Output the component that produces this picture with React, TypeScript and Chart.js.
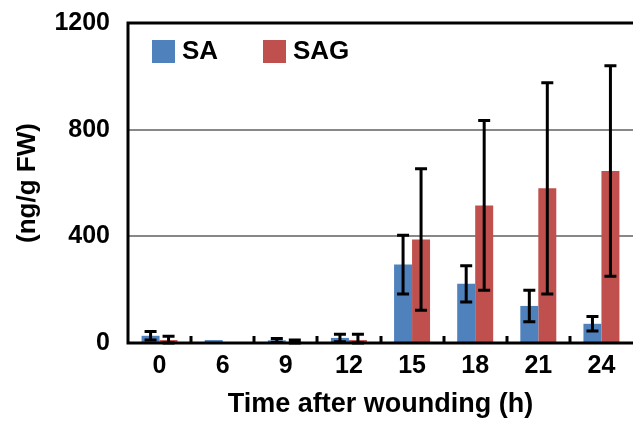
import React, { useEffect, useRef } from "react";
import { Chart, registerables } from "chart.js";

Chart.register(...registerables);

const hours = ["0", "6", "9", "12", "15", "18", "21", "24"];
const saMean = [27, 11, 10, 19, 294, 222, 139, 72];
const saErr = [16, 0, 7, 14, 110, 68, 59, 27];
const sagMean = [11, 0, 4, 11, 388, 516, 580, 645];
const sagErr = [14, 0, 7, 22, 265, 318, 396, 395];
const yTicks = [0, 400, 800, 1200];

const SA_COLOR = "#4f81bd";
const SAG_COLOR = "#c0504d";
const FONT = "'Liberation Sans', Arial, sans-serif";

const errorBars = {
  id: "errorBars",
  afterDatasetsDraw(chart: any) {
    const { ctx } = chart;
    const y = chart.scales.y;
    const errs = [saErr, sagErr];
    ctx.save();
    ctx.strokeStyle = "#000";
    ctx.lineWidth = 3;
    chart.data.datasets.forEach((ds: any, di: number) => {
      const meta = chart.getDatasetMeta(di);
      meta.data.forEach((bar: any, i: number) => {
        const e = errs[di][i];
        if (!e) return;
        const v = ds.data[i];
        const x = bar.x;
        const yTop = y.getPixelForValue(v + e);
        const yBot = y.getPixelForValue(Math.max(0, v - e));
        const cap = 6;
        ctx.beginPath();
        ctx.moveTo(x, yTop);
        ctx.lineTo(x, yBot);
        ctx.moveTo(x - cap, yTop);
        ctx.lineTo(x + cap, yTop);
        ctx.moveTo(x - cap, yBot);
        ctx.lineTo(x + cap, yBot);
        ctx.stroke();
      });
    });
    ctx.restore();
  },
};

const frame = {
  id: "frame",
  afterDraw(chart: any) {
    const { ctx, chartArea: a } = chart;
    ctx.save();
    ctx.strokeStyle = "#000";
    ctx.lineWidth = 3;
    ctx.strokeRect(a.left, a.top, a.right - a.left + 4, a.bottom - a.top);
    // inward tick marks between categories
    const step = (a.right - a.left) / hours.length;
    ctx.beginPath();
    for (let i = 1; i < hours.length; i++) {
      const px = Math.round(a.left + step * i);
      ctx.moveTo(px, a.bottom);
      ctx.lineTo(px, a.bottom - 7);
    }
    ctx.stroke();

    // legend inside the plot
    const labels = ["SA", "SAG"];
    const colors = [SA_COLOR, SAG_COLOR];
    const xs = [a.left + 24, a.left + 135];
    ctx.font = `bold 26px ${FONT}`;
    ctx.textBaseline = "middle";
    labels.forEach((t, i) => {
      ctx.fillStyle = colors[i];
      ctx.fillRect(xs[i], a.top + 17, 23, 23);
      ctx.fillStyle = "#000";
      ctx.fillText(t, xs[i] + 30, a.top + 29);
    });
    ctx.restore();
  },
};

export default function App() {
  const ref = useRef<HTMLCanvasElement>(null);

  useEffect(() => {
    document.body.style.margin = "0";
    const chart = new Chart(ref.current!, {
      type: "bar",
      data: {
        labels: hours,
        datasets: [
          { label: "SA", data: saMean, backgroundColor: SA_COLOR, categoryPercentage: 0.57, barPercentage: 1 },
          { label: "SAG", data: sagMean, backgroundColor: SAG_COLOR, categoryPercentage: 0.57, barPercentage: 1 },
        ],
      },
      options: {
        animation: false,
        responsive: false,
        layout: { padding: { top: 23, right: 0, left: 0, bottom: 0 } },
        plugins: { legend: { display: false }, tooltip: { enabled: false } },
        scales: {
          x: {
            grid: { display: false },
            border: { display: false },
            ticks: { color: "#000", font: { family: FONT, size: 25, weight: "bold" }, padding: 0 },
            title: {
              display: true,
              text: "Time after wounding (h)",
              color: "#000",
              font: { family: FONT, size: 27, weight: "bold" },
              padding: { top: 0, bottom: 2 },
            },
            afterFit(s: any) {
              s.height = 80;
              s.paddingLeft = 0;
              s.paddingRight = 0;
            },
          },
          y: {
            min: 0,
            max: 1200,
            afterBuildTicks(s: any) {
              s.ticks = yTicks.map((v) => ({ value: v }));
            },
            grid: {
              color: (c: any) => (c.tick && (c.tick.value === 400 || c.tick.value === 800) ? "#888" : "rgba(0,0,0,0)"),
              lineWidth: 2,
              drawTicks: false,
            },
            border: { display: false },
            ticks: {
              color: "#000",
              font: { family: FONT, size: 25, weight: "bold" },
              padding: 18,
              callback: (v: any) => String(v),
            },
            title: {
              display: true,
              text: "(ng/g FW)",
              color: "#000",
              font: { family: FONT, size: 26, weight: "bold" },
              padding: { top: 12, bottom: 0 },
            },
            afterFit(s: any) {
              s.width = 128;
              s.paddingTop = 0;
              s.paddingBottom = 0;
            },
          },
        },
      },
      plugins: [errorBars, frame],
    });
    return () => chart.destroy();
  }, []);

  return (
    <div style={{ position: "absolute", left: 0, top: 0, width: 633, height: 423 }}>
      <canvas ref={ref} width={633} height={423} />
    </div>
  );
}
